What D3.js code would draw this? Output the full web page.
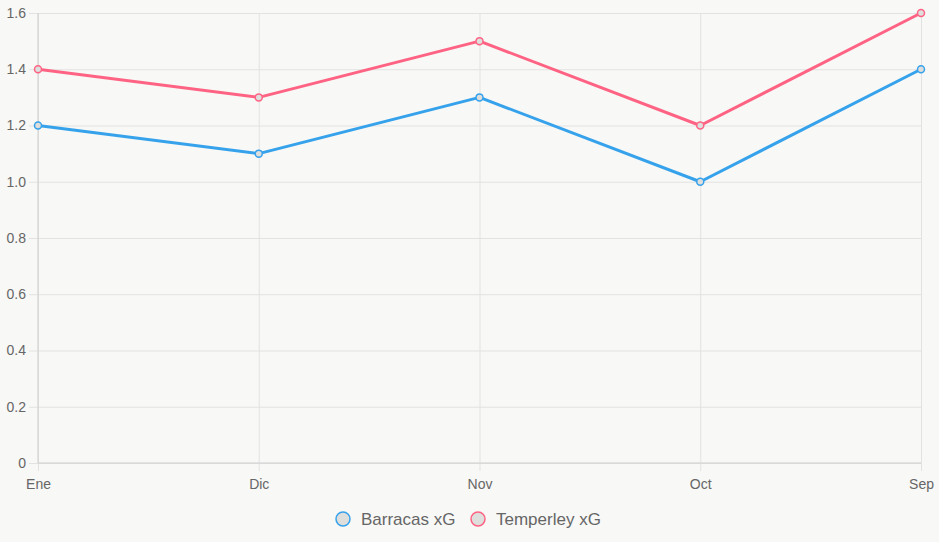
<!DOCTYPE html>
<html>
<head>
<meta charset="utf-8">
<script src="https://cdn.jsdelivr.net/npm/d3@7"></script>
<style>
  body { margin: 0; background: #f8f8f6; }
  svg { display: block; font-family: "Liberation Sans", Arial, Helvetica, sans-serif; }
  .tick text { fill: #666; font-size: 14px; }
</style>
</head>
<body>
<div id="chart"></div>
<script>
// data
var months = ["Ene", "Dic", "Nov", "Oct", "Sep"];
var barracas = [1.2, 1.1, 1.3, 1.0, 1.4];
var temperley = [1.4, 1.3, 1.5, 1.2, 1.6];
var seriesNames = ["Barracas xG", "Temperley xG"];
var yTicks = [0, 0.2, 0.4, 0.6, 0.8, 1.0, 1.2, 1.4, 1.6];

var svgWidth = 939;
var svgHeight = 542;

var margin = { top: 13, right: 18, bottom: 79, left: 38 };
var chartWidth = svgWidth - margin.left - margin.right;
var chartHeight = svgHeight - margin.top - margin.bottom;

var colors = ["#36a2eb", "#ff6384"];

var svg = d3.select("#chart")
  .append("svg")
  .attr("width", svgWidth)
  .attr("height", svgHeight);

var chartGroup = svg.append("g")
  .attr("transform", `translate(${margin.left}, ${margin.top})`);

var xScale = d3.scalePoint()
  .domain(months)
  .range([0, chartWidth]);

var yScale = d3.scaleLinear()
  .domain([0, 1.6])
  .range([chartHeight, 0]);

// horizontal grid + y labels
var leftAxis = d3.axisLeft(yScale)
  .tickValues(yTicks)
  .tickSize(-chartWidth - 9)
  .tickPadding(3)
  .tickFormat(d => d === 0 ? "0" : d.toFixed(1));

chartGroup.append("g")
  .attr("class", "y-axis")
  .call(leftAxis)
  .call(g => g.select(".domain").remove())
  .call(g => g.selectAll(".tick line")
    .attr("stroke", "#e2e2e2")
    .attr("transform", "translate(-9,0)")
    .attr("x2", chartWidth + 9)
    .attr("x1", 0))
  .call(g => g.selectAll(".tick text").attr("x", -12));

// vertical grid + x labels
var bottomAxis = d3.axisBottom(xScale)
  .tickSize(-chartHeight - 8)
  .tickPadding(6);

chartGroup.append("g")
  .attr("class", "x-axis")
  .attr("transform", `translate(0, ${chartHeight})`)
  .call(bottomAxis)
  .call(g => g.select(".domain").remove())
  .call(g => g.selectAll(".tick line")
    .attr("stroke", "#e2e2e2")
    .attr("y1", 8)
    .attr("y2", -chartHeight))
  .call(g => g.selectAll(".tick text").attr("y", 16));

// axis lines
chartGroup.append("line")
  .attr("x1", 0).attr("x2", chartWidth)
  .attr("y1", chartHeight).attr("y2", chartHeight)
  .attr("stroke", "#cfcfcf");
chartGroup.append("line")
  .attr("x1", 0).attr("x2", 0)
  .attr("y1", 0).attr("y2", chartHeight)
  .attr("stroke", "#cfcfcf");

var line = d3.line()
  .x((d, i) => xScale(months[i]))
  .y(d => yScale(d));

[barracas, temperley].forEach(function(series, k) {
  chartGroup.append("path")
    .datum(series)
    .attr("fill", "none")
    .attr("stroke", colors[k])
    .attr("stroke-width", 3)
    .attr("stroke-linejoin", "round")
    .attr("d", line);

  chartGroup.selectAll(".pt" + k)
    .data(series)
    .enter()
    .append("circle")
    .attr("class", "pt" + k)
    .attr("cx", (d, i) => xScale(months[i]))
    .attr("cy", d => yScale(d))
    .attr("r", 3.5)
    .attr("fill", "#dededd")
    .attr("stroke", colors[k])
    .attr("stroke-width", 1.5);
});

// legend
var legendX = [343, 478];
var legend = svg.append("g");
seriesNames.forEach(function(name, k) {
  legend.append("circle")
    .attr("cx", legendX[k])
    .attr("cy", 519)
    .attr("r", 7)
    .attr("fill", "#dededd")
    .attr("stroke", colors[k])
    .attr("stroke-width", 1.5);
  legend.append("text")
    .attr("x", legendX[k] + 18)
    .attr("y", 519)
    .attr("dy", "0.35em")
    .attr("fill", "#666")
    .style("font-size", "17px")
    .text(name);
});
</script>
</body>
</html>
